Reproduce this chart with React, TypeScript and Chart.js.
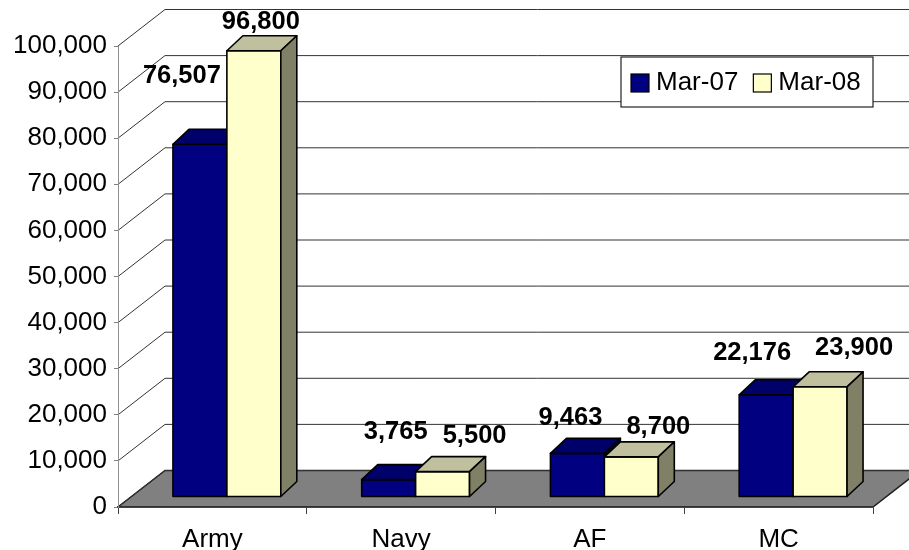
import React, { useEffect, useRef } from "react";
import { Chart, registerables } from "chart.js";

Chart.register(...registerables);

// ---- data ----
const categories = ["Army", "Navy", "AF", "MC"];
const seriesNames = ["Mar-07", "Mar-08"];
const mar07Values = [76507, 3765, 9463, 22176];
const mar08Values = [96800, 5500, 8700, 23900];
const yMin = 0;
const yMax = 100000;
const yStep = 10000;

// ---- style ----
const FONT = "'Liberation Sans', Arial, sans-serif";
const FRONT_COLORS = ["#000080", "#FFFFCC"];
const TOP_COLORS = ["#00006A", "#C0C09E"];
const SIDE_COLORS = ["#00004C", "#808066"];
const WALL_DX = 47;
const WALL_DY = -36.5;
const BAR_SHIFT_X = 14.5;
const BAR_SHIFT_Y = -10;
const BAR_DX = 16;
const BAR_DY = -15;
// label nudges (label centre relative to centre of each bar's top face)
const LABEL_NUDGE = [
  [[-26, -53], [-1, -33], [-15, -20], [-22, -27]],
  [[-1, -14], [24, -21], [19, -15], [26, -24]],
];

const fmt = (v: number) => v.toLocaleString("en-US");

const threeD = {
  id: "threeD",
  beforeDraw(chart: any) {
    const { ctx, chartArea, width } = chart;
    const { left, right, bottom } = chartArea;
    const ys = chart.scales.y;
    ctx.save();
    // floor
    ctx.beginPath();
    ctx.moveTo(left, bottom);
    ctx.lineTo(right, bottom);
    ctx.lineTo(right + WALL_DX, bottom + WALL_DY);
    ctx.lineTo(left + WALL_DX, bottom + WALL_DY);
    ctx.closePath();
    ctx.fillStyle = "#808080";
    ctx.fill();
    ctx.strokeStyle = "#202020";
    ctx.lineWidth = 1.5;
    ctx.stroke();
    // wall gridlines
    ctx.strokeStyle = "#333333";
    ctx.lineWidth = 1;
    for (let v = yMin; v <= yMax; v += yStep) {
      const y = ys.getPixelForValue(v);
      ctx.beginPath();
      ctx.moveTo(left, y);
      ctx.lineTo(left + WALL_DX, y + WALL_DY);
      ctx.lineTo(width + 5, y + WALL_DY);
      ctx.stroke();
    }
    ctx.restore();
  },
  beforeDatasetsDraw(chart: any) {
    const { ctx } = chart;
    ctx.save();
    ctx.lineWidth = 1.6;
    ctx.strokeStyle = "#000000";
    ctx.lineJoin = "round";
    for (let i = 0; i < categories.length; i++) {
      for (let d = 0; d < chart.data.datasets.length; d++) {
        const el = chart.getDatasetMeta(d).data[i];
        const { x, y, base, width } = el.getProps(["x", "y", "base", "width"], true);
        const l = x - width / 2 + BAR_SHIFT_X;
        const r = x + width / 2 + BAR_SHIFT_X;
        const t = y + BAR_SHIFT_Y;
        const b = base + BAR_SHIFT_Y;
        // front
        ctx.beginPath();
        ctx.rect(l, t, r - l, b - t);
        ctx.fillStyle = FRONT_COLORS[d];
        ctx.fill();
        ctx.stroke();
        // top
        ctx.beginPath();
        ctx.moveTo(l, t);
        ctx.lineTo(r, t);
        ctx.lineTo(r + BAR_DX, t + BAR_DY);
        ctx.lineTo(l + BAR_DX, t + BAR_DY);
        ctx.closePath();
        ctx.fillStyle = TOP_COLORS[d];
        ctx.fill();
        ctx.stroke();
        // side
        ctx.beginPath();
        ctx.moveTo(r, t);
        ctx.lineTo(r + BAR_DX, t + BAR_DY);
        ctx.lineTo(r + BAR_DX, b + BAR_DY);
        ctx.lineTo(r, b);
        ctx.closePath();
        ctx.fillStyle = SIDE_COLORS[d];
        ctx.fill();
        ctx.stroke();
      }
    }
    ctx.restore();
    return false;
  },
  afterDraw(chart: any) {
    const { ctx, chartArea } = chart;
    ctx.save();
    // value labels
    ctx.font = `bold 25.5px ${FONT}`;
    ctx.fillStyle = "#000000";
    ctx.textAlign = "center";
    ctx.textBaseline = "middle";
    for (let d = 0; d < chart.data.datasets.length; d++) {
      const meta = chart.getDatasetMeta(d);
      meta.data.forEach((el: any, i: number) => {
        const { x, y } = el.getProps(["x", "y"], true);
        const cx = x + BAR_SHIFT_X + BAR_DX / 2;
        const ty = y + BAR_SHIFT_Y + BAR_DY;
        const [nx, ny] = LABEL_NUDGE[d][i];
        ctx.fillText(fmt(chart.data.datasets[d].data[i]), cx + nx, ty + ny);
      });
    }
    // legend
    const boxW = 252;
    const boxH = 50;
    const bx = chartArea.right - boxW;
    const by = chartArea.top + 11;
    ctx.fillStyle = "#ffffff";
    ctx.fillRect(bx, by, boxW, boxH);
    ctx.strokeStyle = "#222222";
    ctx.lineWidth = 1.2;
    ctx.strokeRect(bx, by, boxW, boxH);
    ctx.font = `26px ${FONT}`;
    ctx.textAlign = "left";
    ctx.textBaseline = "middle";
    let cx = bx + 10;
    const cy = by + boxH / 2 + 1;
    chart.data.datasets.forEach((ds: any, d: number) => {
      ctx.fillStyle = FRONT_COLORS[d];
      ctx.fillRect(cx, cy - 9, 18, 18);
      ctx.strokeStyle = "#000000";
      ctx.lineWidth = 1.2;
      ctx.strokeRect(cx, cy - 9, 18, 18);
      ctx.fillStyle = "#000000";
      ctx.fillText(ds.label, cx + 25, cy);
      cx += 25 + ctx.measureText(ds.label).width + 15;
    });
    ctx.restore();
  },
};

export default function App() {
  const ref = useRef<HTMLCanvasElement | null>(null);
  useEffect(() => {
    if (!ref.current) return;
    Chart.defaults.font.family = FONT;
    const chart = new Chart(ref.current, {
      type: "bar",
      data: {
        labels: categories,
        datasets: [
          { label: seriesNames[0], data: mar07Values, backgroundColor: FRONT_COLORS[0] },
          { label: seriesNames[1], data: mar08Values, backgroundColor: FRONT_COLORS[1] },
        ],
      },
      options: {
        responsive: false,
        animation: false,
        events: [],
        layout: { padding: { top: 46, right: 36, left: 0, bottom: 0 } },
        datasets: { bar: { categoryPercentage: 108 / 189, barPercentage: 1 } },
        plugins: { legend: { display: false }, tooltip: { enabled: false } },
        scales: {
          x: {
            afterFit: (s: any) => { s.height = 43; },
            grid: { drawOnChartArea: false, tickLength: 7, color: "#404040", offset: true },
            border: { color: "#303030", width: 1.5 },
            ticks: { font: { size: 26 }, color: "#000000", padding: 10 },
          },
          y: {
            min: yMin,
            max: yMax,
            afterFit: (s: any) => { s.width = 118; },
            grid: { drawOnChartArea: false, tickLength: 4, color: "#808080" },
            border: { color: "#909090" },
            ticks: {
              stepSize: yStep,
              font: { size: 26 },
              color: "#000000",
              padding: 7,
              callback: (v: any) => fmt(Number(v)),
            },
          },
        },
      },
      plugins: [threeD],
    });
    return () => chart.destroy();
  }, []);
  return (
    <div style={{ position: "absolute", left: 0, top: 0, width: 909, height: 550 }}>
      <canvas ref={ref} width={909} height={550} />
    </div>
  );
}
